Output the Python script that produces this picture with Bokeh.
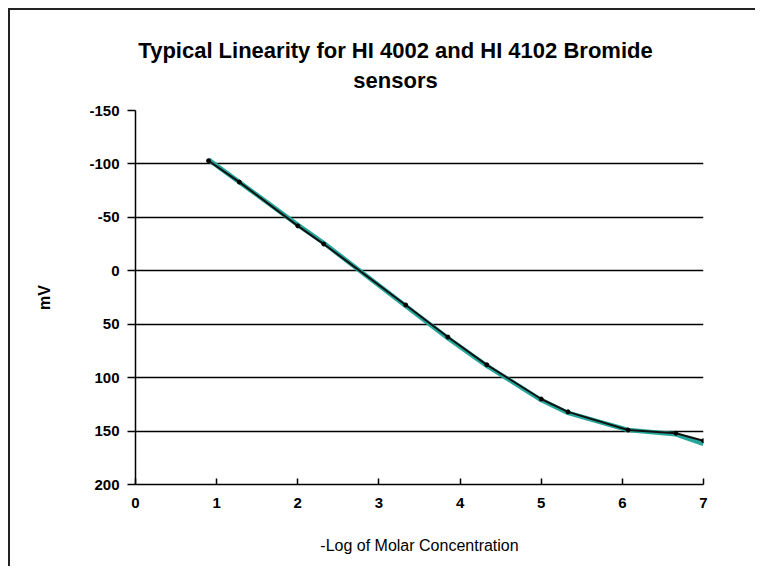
from bokeh.plotting import figure
from bokeh.models import Range1d, FixedTicker, Label, ColumnDataSource
from bokeh.layouts import column
from bokeh.embed import file_html
from bokeh.resources import INLINE

# ---- data ----
log_conc = [0.9, 1.28, 2.0, 2.32, 3.33, 3.85, 4.33, 5.0, 5.33, 6.07, 6.66, 7.0]
mv_black = [-103, -83, -42, -25, 32, 62, 88, 120, 132, 149, 152, 159]
mv_teal = [-104, -83, -43, -26, 33, 63, 89, 121, 133, 149, 153, 162]

x_ticks = [0, 1, 2, 3, 4, 5, 6, 7]
y_ticks = [-150, -100, -50, 0, 50, 100, 150, 200]
y_tick_labels = ["-150", "-100", "-50", "0", "50", "100", "150", "200"]

title_lines = ["Typical Linearity for HI 4002 and HI 4102 Bromide", "sensors"]
x_label = "-Log of Molar Concentration"
y_label = "mV"

FONT = "Liberation Sans"
W = 745
BL, BR = 125, 52          # left / right borders (frames of both parts aligned)
FW = W - BL - BR          # 568 px frame width

# ---- title strip ----
TH = 90
tfig = figure(width=W, height=TH, frame_width=FW, frame_height=TH,
              min_border_left=BL, min_border_right=BR, min_border_top=0, min_border_bottom=0,
              x_axis_type=None, y_axis_type=None,
              output_backend="svg", toolbar_location=None, tools="")
tfig.grid.visible = False
tfig.outline_line_color = None
tfig.background_fill_color = "white"
tfig.border_fill_color = "white"
tfig.add_layout(Label(x=260, y=50, x_units="screen", y_units="screen",
                      text=title_lines[0], text_align="center", text_baseline="alphabetic",
                      text_font=FONT, text_font_size="22px", text_font_style="bold",
                      text_color="black"))
tfig.add_layout(Label(x=260, y=20, x_units="screen", y_units="screen",
                      text=title_lines[1], text_align="center", text_baseline="alphabetic",
                      text_font=FONT, text_font_size="22px", text_font_style="bold",
                      text_color="black"))

# ---- main chart ----
p = figure(
    width=W, height=466,
    frame_width=FW, frame_height=374,
    min_border_left=BL, min_border_right=BR,
    min_border_top=10, min_border_bottom=82,
    x_range=Range1d(0, 7), y_range=Range1d(200, -150),
    output_backend="svg", toolbar_location=None, tools="",
)
p.outline_line_color = None
p.background_fill_color = "white"
p.border_fill_color = "white"

# grid
p.xgrid.visible = False
p.ygrid.ticker = FixedTicker(ticks=y_ticks)
p.ygrid.grid_line_color = "black"
p.ygrid.grid_line_width = 1.3

# x axis
p.xaxis.ticker = FixedTicker(ticks=x_ticks)
p.xaxis.major_tick_in = 6
p.xaxis.major_tick_out = 0
p.xaxis.minor_tick_line_color = None
p.xaxis.axis_line_color = "black"
p.xaxis.axis_line_width = 1.5
p.xaxis.major_tick_line_width = 1.5
p.xaxis.major_label_standoff = 13
p.xaxis.major_label_text_font = FONT
p.xaxis.major_label_text_font_size = "15px"
p.xaxis.major_label_text_font_style = "bold"
p.xaxis.major_label_text_color = "black"
p.xaxis.axis_label = x_label
p.xaxis.axis_label_text_font = FONT
p.xaxis.axis_label_text_font_size = "16px"
p.xaxis.axis_label_text_font_style = "normal"
p.xaxis.axis_label_text_color = "black"
p.xaxis.axis_label_standoff = 26

# y axis
p.yaxis.ticker = FixedTicker(ticks=y_ticks)
p.yaxis.major_label_overrides = {t: l for t, l in zip(y_ticks, y_tick_labels)}
p.yaxis.major_tick_in = 0
p.yaxis.major_tick_out = 8
p.yaxis.minor_tick_line_color = None
p.yaxis.axis_line_color = "black"
p.yaxis.axis_line_width = 1.5
p.yaxis.major_tick_line_width = 1.5
p.yaxis.major_label_standoff = 8
p.yaxis.major_label_text_font = FONT
p.yaxis.major_label_text_font_size = "15px"
p.yaxis.major_label_text_font_style = "bold"
p.yaxis.major_label_text_color = "black"
p.yaxis.axis_label = y_label
p.yaxis.axis_label_text_font = FONT
p.yaxis.axis_label_text_font_size = "16px"
p.yaxis.axis_label_text_font_style = "bold"
p.yaxis.axis_label_text_color = "black"
p.yaxis.axis_label_standoff = 33

# series
src = ColumnDataSource(dict(x=log_conc, black=mv_black, teal=mv_teal))
p.line("x", "teal", source=src, line_color="#26a69a", line_width=4.5)
p.line("x", "black", source=src, line_color="#111111", line_width=2)
p.scatter("x", "black", source=src, size=4, fill_color="black", line_color="black")

layout = column(tfig, p, spacing=0)
layout.styles = {"margin-left": "8px", "margin-top": "8px",
                 "border-left": "2px solid #222", "border-top": "2px solid #222"}

open("out.html", "w").write(file_html(layout, INLINE))
